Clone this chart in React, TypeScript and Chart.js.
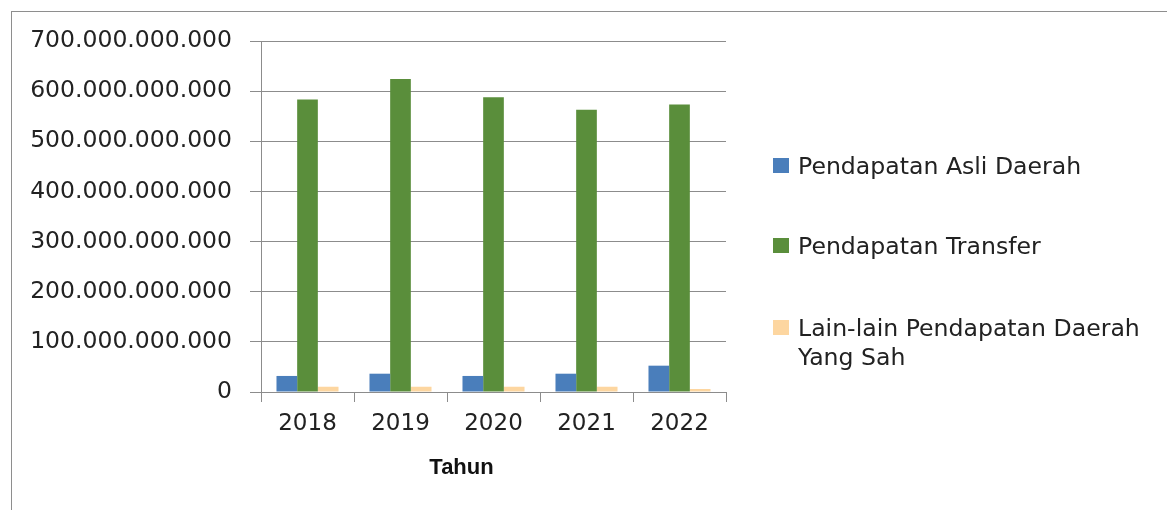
import React, { useEffect, useRef } from "react";
import { Chart, registerables } from "chart.js";

Chart.register(...registerables);

const categories = ["2018", "2019", "2020", "2021", "2022"];
const seriesNames = [
  "Pendapatan Asli Daerah",
  "Pendapatan Transfer",
  "Lain-lain Pendapatan Daerah Yang Sah",
];
const legendLines = [
  ["Pendapatan Asli Daerah"],
  ["Pendapatan Transfer"],
  ["Lain-lain Pendapatan Daerah", "Yang Sah"],
];
const asliDaerah = [32e9, 36.5e9, 32e9, 36.5e9, 52.5e9];
const transfer = [583.5e9, 624e9, 588e9, 563e9, 573.5e9];
const lainLain = [10.5e9, 10.5e9, 10.5e9, 10.5e9, 6e9];
const yMin = 0;
const yMax = 700e9;
const yStep = 100e9;
const xTitle = "Tahun";
const colors = ["#4A7EBB", "#5A8E3B", "#FDD6A0"];

const FONT = "'DejaVu Sans', sans-serif";

function fmt(v: number): string {
  const s = Math.round(v).toString();
  return s.replace(/\B(?=(\d{3})+(?!\d))/g, ".");
}

const overlayPlugin = {
  id: "overlay",
  afterDraw(chart: any) {
    const ctx = chart.ctx;
    ctx.save();
    // legend
    const tops = [158, 238, 320];
    ctx.font = `23.6px ${FONT}`;
    ctx.textBaseline = "alphabetic";
    ctx.textAlign = "left";
    legendLines.forEach((lines, i) => {
      ctx.fillStyle = colors[i];
      ctx.fillRect(773, tops[i], 16, 15);
      ctx.fillStyle = "#222222";
      lines.forEach((ln, j) => {
        ctx.fillText(ln, 798, tops[i] + 16 + j * 29);
      });
    });
    // x title
    ctx.font = `bold 22px 'Liberation Sans', sans-serif`;
    ctx.textAlign = "center";
    ctx.fillStyle = "#111111";
    ctx.fillText(xTitle, 461.5, 474);
    ctx.restore();
  },
};

export default function App() {
  const ref = useRef<HTMLCanvasElement | null>(null);
  useEffect(() => {
    if (!ref.current) return;
    const chart = new Chart(ref.current, {
      type: "bar",
      data: {
        labels: categories,
        datasets: [
          { label: seriesNames[0], data: asliDaerah, backgroundColor: colors[0] },
          { label: seriesNames[1], data: transfer, backgroundColor: colors[1] },
          { label: seriesNames[2], data: lainLain, backgroundColor: colors[2] },
        ],
      },
      options: {
        responsive: false,
        animation: false,
        layout: { padding: { left: 0, top: 41, right: 441, bottom: 0 } },
        datasets: { bar: { categoryPercentage: 0.667, barPercentage: 1.0 } },
        plugins: { legend: { display: false }, tooltip: { enabled: false }, title: { display: false } },
        scales: {
          x: {
            afterFit: (s: any) => {
              s.height = 118;
            },
            grid: {
              display: true,
              drawOnChartArea: false,
              drawTicks: true,
              tickLength: 10,
              color: "#8c8c8c",
              offset: true,
            },
            border: { display: true, color: "#8c8c8c", width: 1 },
            ticks: {
              color: "#222222",
              font: { family: FONT, size: 23 },
              padding: 8,
              maxRotation: 0,
            },
          },
          y: {
            min: yMin,
            max: yMax,
            afterFit: (s: any) => {
              s.width = 261;
            },
            grid: {
              color: "#8c8c8c",
              lineWidth: 1,
              drawTicks: true,
              tickLength: 11,
            },
            border: { display: true, color: "#8c8c8c", width: 1 },
            ticks: {
              stepSize: yStep,
              color: "#222222",
              font: { family: FONT, size: 23.5 },
              padding: 18,
              callback: (v: any) => fmt(Number(v)),
            },
          },
        },
      },
      plugins: [overlayPlugin],
    } as any);
    return () => chart.destroy();
  }, []);
  return (
    <div
      style={{
        position: "fixed",
        left: 0,
        top: 0,
        width: 1167,
        height: 510,
        background: "#ffffff",
        overflow: "hidden",
      }}
    >
      <div
        style={{
          position: "absolute",
          left: 11,
          top: 11,
          width: 1300,
          height: 700,
          border: "1px solid #8e8e8e",
        }}
      />
      <canvas
        ref={ref}
        width={1167}
        height={510}
        style={{ position: "absolute", left: 0, top: 0, width: 1167, height: 510 }}
      />
    </div>
  );
}
